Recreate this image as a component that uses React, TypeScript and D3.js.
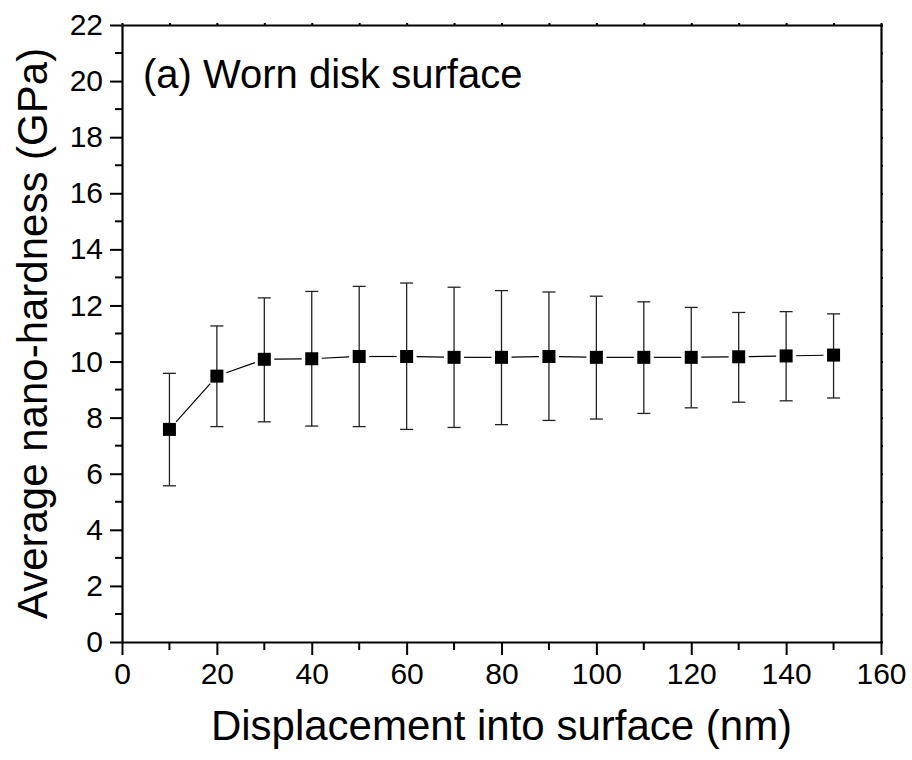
import React, { useEffect, useRef } from 'react'
import * as d3 from 'd3'

const displacement = [10, 20, 30, 40, 50, 60, 70, 80, 90, 100, 110, 120, 130, 140, 150]
const hardness = [7.58, 9.48, 10.08, 10.1, 10.18, 10.18, 10.15, 10.15, 10.18, 10.15, 10.15, 10.15, 10.17, 10.2, 10.23]
const errLow = [5.57, 7.68, 7.85, 7.7, 7.68, 7.58, 7.65, 7.75, 7.9, 7.95, 8.15, 8.35, 8.55, 8.6, 8.7]
const errHigh = [9.58, 11.27, 12.27, 12.5, 12.68, 12.8, 12.65, 12.53, 12.48, 12.33, 12.13, 11.93, 11.75, 11.78, 11.7]
const xTicks = [0, 20, 40, 60, 80, 100, 120, 140, 160]
const yTicks = [0, 2, 4, 6, 8, 10, 12, 14, 16, 18, 20, 22]

const App = () => {
    const ref = useRef<SVGSVGElement>(null)

    useEffect(() => {
        const width = 912
        const height = 760
        const left = 122, right = 881, top = 25, bottom = 642
        const font = '"Liberation Sans", Arial, sans-serif'

        const svg = d3.select(ref.current)
        svg.selectAll('*').remove()
        svg.attr('width', width).attr('height', height)

        const x = d3.scaleLinear().domain([0, 160]).range([left, right])
        const y = d3.scaleLinear().domain([0, 22]).range([bottom, top])

        // bottom axis, major + minor ticks
        const xAxis = d3.axisBottom(x).tickValues(xTicks).tickSize(13).tickSizeOuter(0).tickPadding(8)
        const gx = svg.append('g').attr('transform', `translate(0,${bottom})`).call(xAxis)
        gx.attr('font-size', null).attr('font-family', null)
        gx.selectAll('text').style('font-size', '30px').style('font-family', font).attr('fill', '#000')
        gx.append('g').selectAll('line')
            .data(d3.range(10, 160, 20)).enter()
            .append('line')
            .attr('x1', d => x(d)).attr('x2', d => x(d))
            .attr('y1', 0).attr('y2', 8)
            .attr('stroke', '#000').attr('stroke-width', 2)

        // left axis
        const yAxis = d3.axisLeft(y).tickValues(yTicks).tickSize(12).tickSizeOuter(0).tickPadding(7)
        const gy = svg.append('g').attr('transform', `translate(${left},0)`).call(yAxis)
        gy.attr('font-size', null).attr('font-family', null)
        gy.selectAll('text').style('font-size', '30px').style('font-family', font).attr('fill', '#000')
        gy.append('g').selectAll('line')
            .data(d3.range(1, 22, 2)).enter()
            .append('line')
            .attr('y1', d => y(d)).attr('y2', d => y(d))
            .attr('x1', 0).attr('x2', -7)
            .attr('stroke', '#000').attr('stroke-width', 2)

        // top and right axes with tiny ticks
        const gt = svg.append('g').attr('transform', `translate(0,${top})`)
            .call(d3.axisTop(x).tickValues(d3.range(0, 161, 10)).tickSize(2).tickSizeOuter(0).tickFormat(() => ''))
        const gr = svg.append('g').attr('transform', `translate(${right},0)`)
            .call(d3.axisRight(y).tickValues(d3.range(0, 23, 1)).tickSize(2).tickSizeOuter(0).tickFormat(() => ''))

        for (const g of [gx, gy, gt, gr]) {
            g.select('.domain').attr('stroke', '#000').attr('stroke-width', 2.2)
            g.selectAll('.tick line').attr('stroke', '#000').attr('stroke-width', 2)
        }

        // connecting line, stopping short of the markers
        const gap = 10
        const segs = d3.pairs(displacement.map((d, i) => [x(d), y(hardness[i])]))
        svg.append('g').selectAll('line')
            .data(segs).enter()
            .append('line')
            .each(function ([a, b]) {
                const dx = b[0] - a[0], dy = b[1] - a[1]
                const len = Math.sqrt(dx * dx + dy * dy)
                const ux = dx / len, uy = dy / len
                d3.select(this)
                    .attr('x1', a[0] + ux * gap).attr('y1', a[1] + uy * gap)
                    .attr('x2', b[0] - ux * gap).attr('y2', b[1] - uy * gap)
            })
            .attr('stroke', '#000').attr('stroke-width', 1.2)

        // error bars
        const eb = svg.append('g').attr('stroke', '#222').attr('stroke-width', 1.3)
        displacement.forEach((d, i) => {
            const cx = x(d)
            eb.append('line').attr('x1', cx).attr('x2', cx).attr('y1', y(errLow[i])).attr('y2', y(errHigh[i]))
            eb.append('line').attr('x1', cx - 6.5).attr('x2', cx + 6.5).attr('y1', y(errLow[i])).attr('y2', y(errLow[i]))
            eb.append('line').attr('x1', cx - 6.5).attr('x2', cx + 6.5).attr('y1', y(errHigh[i])).attr('y2', y(errHigh[i]))
        })

        // markers
        const s = 13
        svg.append('g').selectAll('rect')
            .data(displacement).enter()
            .append('rect')
            .attr('x', d => x(d) - s / 2)
            .attr('y', (d, i) => y(hardness[i]) - s / 2)
            .attr('width', s).attr('height', s)
            .attr('fill', '#000')

        // labels
        svg.append('text')
            .attr('x', 143).attr('y', 88)
            .style('font-size', '40px').style('font-family', font)
            .text('(a) Worn disk surface')

        svg.append('text')
            .attr('x', (left + right) / 2).attr('y', 740)
            .attr('text-anchor', 'middle')
            .style('font-size', '42px').style('font-family', font)
            .text('Displacement into surface (nm)')

        svg.append('text')
            .attr('transform', `translate(47,${(top + bottom) / 2}) rotate(-90)`)
            .attr('text-anchor', 'middle')
            .style('font-size', '42px').style('font-family', font)
            .text('Average nano-hardness (GPa)')
    }, [])

    return (
        <div style={{ position: 'absolute', left: 0, top: 0, background: '#fff' }}>
            <svg ref={ref}></svg>
        </div>
    )
}

export default App
